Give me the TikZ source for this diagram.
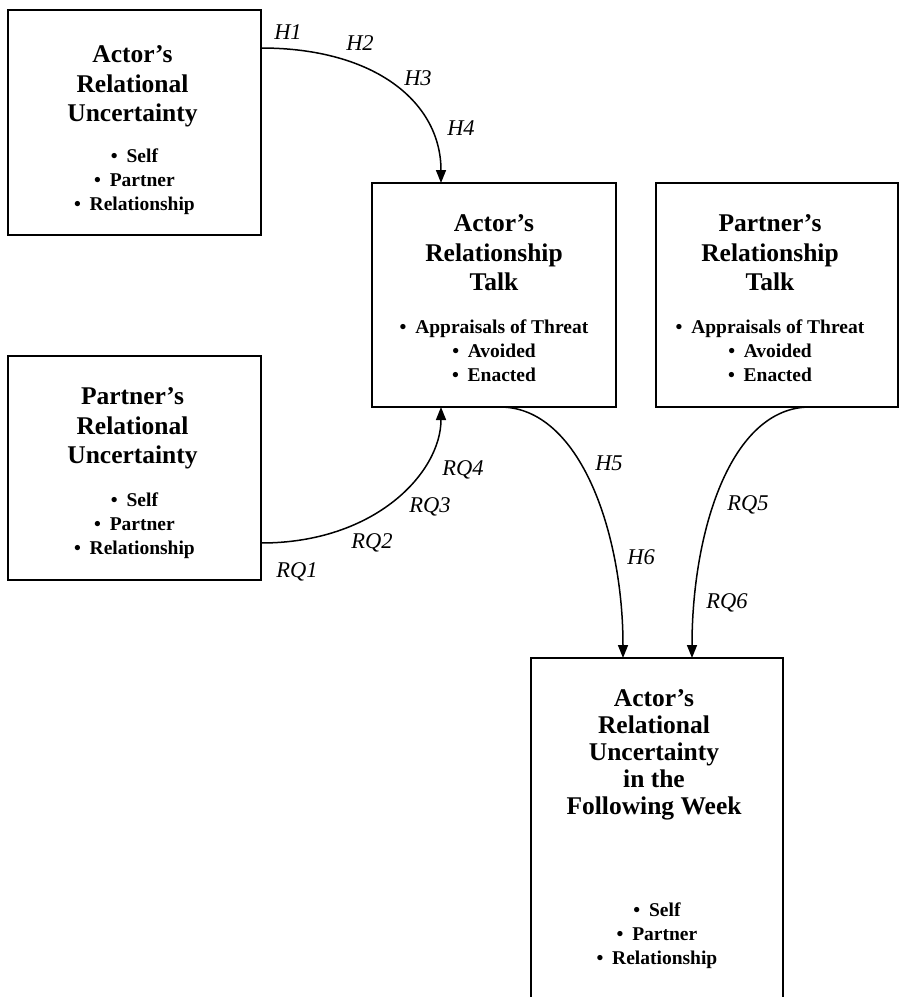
\documentclass[tikz,border=0pt]{standalone}
\usepackage{fontspec}
\setmainfont{Liberation Serif}
\usetikzlibrary{arrows.meta}
\tikzset{
  box/.style={draw=black, line width=1.4pt, fill=white, anchor=north west, inner sep=0pt, outer sep=0pt},
  ttl/.style={anchor=north, align=center, inner sep=0pt, outer sep=0pt, font=\fontsize{25.5}{29.5}\selectfont\bfseries},
  ttlb/.style={anchor=north, align=center, inner sep=0pt, outer sep=0pt, font=\fontsize{25.5}{27}\selectfont\bfseries},
  bul/.style={anchor=north, align=center, inner sep=0pt, outer sep=0pt, font=\fontsize{19.5}{24}\selectfont\bfseries},
  conn/.style={draw=black, line width=1.5pt, -{Triangle[length=13pt,width=10pt]}},
  lab/.style={inner sep=0pt, outer sep=0pt, font=\fontsize{22.5}{24}\selectfont\itshape}
}
\newcommand{\bt}[1]{\textbullet\hspace{0.45em}#1}
\begin{document}
\begin{tikzpicture}[x=1pt, y=-1pt]
\clip (0,0) rectangle (899,997);
\fill[white] (0,0) rectangle (899,997);

% boxes
\node[box, minimum width=253pt, minimum height=225pt] (aru) at (8,10) {};
\node[box, minimum width=253pt, minimum height=224pt] (pru) at (8,356) {};
\node[box, minimum width=244pt, minimum height=224pt] (atk) at (372,183) {};
\node[box, minimum width=242pt, minimum height=224pt] (ptk) at (656,183) {};
\node[box, minimum width=252pt, minimum height=370pt] (aruf) at (531,658) {};

% texts
\node[ttl] (aruT) at ([xshift=-2pt,yshift=-36pt]aru.north) {Actor’s\\Relational\\Uncertainty};
\node[bul] (aruB) at ([yshift=-139pt]aru.north) {\bt{Self}\\\bt{Partner}\\\bt{Relationship}};

\node[ttl] (pruT) at ([xshift=-2pt,yshift=-32pt]pru.north) {Partner’s\\Relational\\Uncertainty};
\node[bul] (pruB) at ([yshift=-137pt]pru.north) {\bt{Self}\\\bt{Partner}\\\bt{Relationship}};

\node[ttl] (atkT) at ([yshift=-32pt]atk.north) {Actor’s\\Relationship\\Talk};
\node[bul] (atkB) at ([yshift=-137pt]atk.north) {\bt{Appraisals of Threat}\\\bt{Avoided}\\\bt{Enacted}};

\node[ttl] (ptkT) at ([xshift=-7pt,yshift=-32pt]ptk.north) {Partner’s\\Relationship\\Talk};
\node[bul] (ptkB) at ([xshift=-7pt,yshift=-137pt]ptk.north) {\bt{Appraisals of Threat}\\\bt{Avoided}\\\bt{Enacted}};

\node[ttlb] (arufT) at ([xshift=-3pt,yshift=-32pt]aruf.north) {Actor’s\\Relational\\Uncertainty\\in the\\Following Week};
\node[bul] (arufB) at ([yshift=-245pt]aruf.north) {\bt{Self}\\\bt{Partner}\\\bt{Relationship}};

% connectors
\draw[conn] ([yshift=-38pt]aru.north east) .. controls +(115,0) and +(0,-80) .. ([xshift=69pt]atk.north west);
\draw[conn] ([yshift=37pt]pru.south east) .. controls +(115,0) and +(0,65) .. ([xshift=69pt]atk.south west);
\draw[conn] ([xshift=128pt]atk.south west) .. controls +(80,0) and +(0,-125) .. ([xshift=92pt]aruf.north west);
\draw[conn] ([xshift=154pt]ptk.south west) .. controls +(-80,0) and +(0,-125) .. ([xshift=161pt]aruf.north west);

% labels
\node[lab] (h1) at (288,32) {H1};
\node[lab] (h2) at (360,43) {H2};
\node[lab] (h3) at (418,78) {H3};
\node[lab] (h4) at (461,128) {H4};
\node[lab] (rq1) at (297,572) {RQ1};
\node[lab] (rq2) at (372,543) {RQ2};
\node[lab] (rq3) at (430,507) {RQ3};
\node[lab] (rq4) at (463,470) {RQ4};
\node[lab] (h5) at (609,463) {H5};
\node[lab] (h6) at (641,557) {H6};
\node[lab] (rq5) at (748,505) {RQ5};
\node[lab] (rq6) at (727,603) {RQ6};
\end{tikzpicture}
\end{document}
